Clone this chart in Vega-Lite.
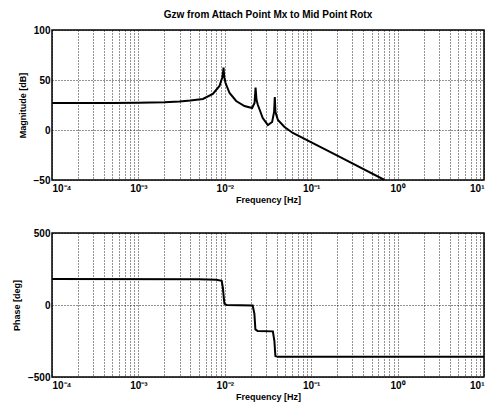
{
  "$schema": "https://vega.github.io/schema/vega-lite/v6.json",
  "background": "white",
  "padding": {"left": 11, "top": 9, "right": 0, "bottom": 2},
  "spacing": 22,
  "datasets": {
    "mag": [
      {"f": 0.0001, "db": 27},
      {"f": 0.0005, "db": 27.1},
      {"f": 0.001, "db": 27.3},
      {"f": 0.002, "db": 27.8},
      {"f": 0.003, "db": 28.5},
      {"f": 0.004, "db": 29.5},
      {"f": 0.00557, "db": 31},
      {"f": 0.00727, "db": 36},
      {"f": 0.00868, "db": 44},
      {"f": 0.00931, "db": 52},
      {"f": 0.0095, "db": 56},
      {"f": 0.00967, "db": 62.5},
      {"f": 0.00985, "db": 53},
      {"f": 0.0102, "db": 47},
      {"f": 0.01135, "db": 37},
      {"f": 0.01353, "db": 29},
      {"f": 0.0169, "db": 24},
      {"f": 0.0207, "db": 22},
      {"f": 0.0221, "db": 27},
      {"f": 0.0227, "db": 42.5},
      {"f": 0.0233, "db": 30},
      {"f": 0.02415, "db": 25},
      {"f": 0.0275, "db": 12},
      {"f": 0.0315, "db": 5},
      {"f": 0.0353, "db": 8},
      {"f": 0.0372, "db": 18},
      {"f": 0.0379, "db": 33},
      {"f": 0.0386, "db": 18},
      {"f": 0.0412, "db": 10},
      {"f": 0.0491, "db": 3},
      {"f": 0.0613, "db": -3},
      {"f": 0.193, "db": -24.9},
      {"f": 0.706, "db": -50}
    ],
    "phase": [
      {"f": 0.0001, "deg": 180},
      {"f": 0.005, "deg": 179},
      {"f": 0.008, "deg": 175},
      {"f": 0.0092, "deg": 168},
      {"f": 0.0095, "deg": 120},
      {"f": 0.0097, "deg": 60},
      {"f": 0.0099, "deg": 10},
      {"f": 0.0105, "deg": 0},
      {"f": 0.021, "deg": -3},
      {"f": 0.022, "deg": -60},
      {"f": 0.0226, "deg": -170},
      {"f": 0.024, "deg": -180},
      {"f": 0.036, "deg": -183},
      {"f": 0.0375, "deg": -250},
      {"f": 0.0385, "deg": -355},
      {"f": 0.041, "deg": -360},
      {"f": 10, "deg": -360}
    ]
  },
  "config": {
    "view": {"stroke": "black", "strokeWidth": 1.5},
    "axis": {
      "labelFont": "Liberation Sans",
      "titleFont": "Liberation Sans",
      "labelFontWeight": "bold",
      "titleFontWeight": "bold",
      "labelFontSize": 10,
      "titleFontSize": 9,
      "labelColor": "black",
      "titleColor": "black",
      "domain": false,
      "ticks": false,
      "gridColor": "black",
      "gridDash": [1, 2],
      "gridOpacity": 0.85,
      "gridWidth": 1
    }
  },
  "vconcat": [
    {
      "title": {"text": "Gzw from Attach Point Mx to Mid Point Rotx", "font": "Liberation Sans", "fontSize": 10, "fontWeight": "bold", "color": "black", "anchor": "middle", "offset": 5},
      "width": 432,
      "height": 150,
      "data": {"name": "mag"},
      "mark": {"type": "line", "color": "black", "strokeWidth": 2, "clip": true},
      "encoding": {
        "x": {
          "field": "f", "type": "quantitative",
          "scale": {"type": "log", "domain": [0.0001, 10], "nice": false},
          "axis": {
            "title": "Frequency [Hz]",
            "titlePadding": 2,
            "labelPadding": 3,
            "values": [0.0001,0.0002,0.0003,0.0004,0.0005,0.0006,0.0007,0.0008,0.0009,0.001,0.002,0.003,0.004,0.005,0.006,0.007,0.008,0.009,0.01,0.02,0.03,0.04,0.05,0.06,0.07,0.08,0.09,0.1,0.2,0.3,0.4,0.5,0.6,0.7,0.8,0.9,1,2,3,4,5,6,7,8,9,10],
            "labelExpr": "datum.value == 0.0001 ? '10⁻⁴' : datum.value == 0.001 ? '10⁻³' : datum.value == 0.01 ? '10⁻²' : datum.value == 0.1 ? '10⁻¹' : datum.value == 1 ? '10⁰' : datum.value == 10 ? '10¹' : ''",
            "labelOverlap": false
          }
        },
        "y": {
          "field": "db", "type": "quantitative",
          "scale": {"domain": [-50, 100], "nice": false},
          "axis": {"title": "Magnitude [dB]", "values": [-50, 0, 50, 100], "titlePadding": 6, "labelPadding": 2}
        }
      }
    },
    {
      "width": 432,
      "height": 144,
      "data": {"name": "phase"},
      "mark": {"type": "line", "color": "black", "strokeWidth": 2, "clip": true},
      "encoding": {
        "x": {
          "field": "f", "type": "quantitative",
          "scale": {"type": "log", "domain": [0.0001, 10], "nice": false},
          "axis": {
            "title": "Frequency [Hz]",
            "titlePadding": 2,
            "labelPadding": 3,
            "values": [0.0001,0.0002,0.0003,0.0004,0.0005,0.0006,0.0007,0.0008,0.0009,0.001,0.002,0.003,0.004,0.005,0.006,0.007,0.008,0.009,0.01,0.02,0.03,0.04,0.05,0.06,0.07,0.08,0.09,0.1,0.2,0.3,0.4,0.5,0.6,0.7,0.8,0.9,1,2,3,4,5,6,7,8,9,10],
            "labelExpr": "datum.value == 0.0001 ? '10⁻⁴' : datum.value == 0.001 ? '10⁻³' : datum.value == 0.01 ? '10⁻²' : datum.value == 0.1 ? '10⁻¹' : datum.value == 1 ? '10⁰' : datum.value == 10 ? '10¹' : ''",
            "labelOverlap": false
          }
        },
        "y": {
          "field": "deg", "type": "quantitative",
          "scale": {"domain": [-500, 500], "nice": false},
          "axis": {"title": "Phase [deg]", "values": [-500, 0, 500], "titlePadding": 6, "labelPadding": 2}
        }
      }
    }
  ]
}
